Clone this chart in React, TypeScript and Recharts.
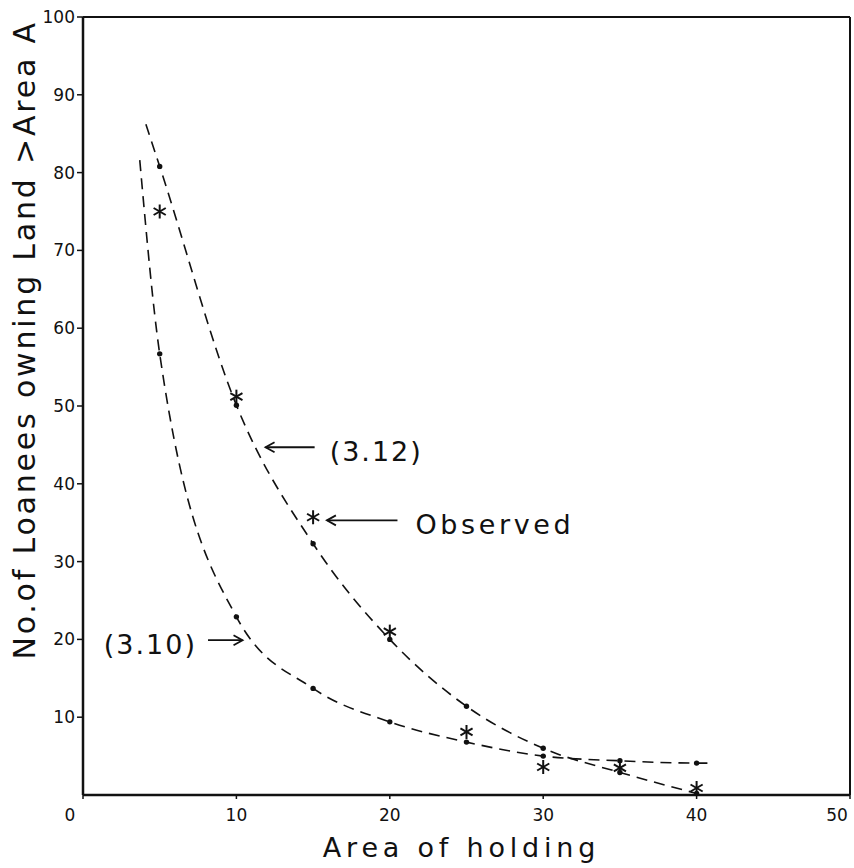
import React from 'react'
import {
  ComposedChart, Line, Scatter, XAxis, YAxis, ReferenceLine,
} from 'recharts'

// x positions of the plotted points (area of holding)
const areas = [5, 10, 15, 20, 25, 30, 35, 40]
// observed counts (asterisks)
const observed = [75, 51.2, 35.7, 21, 8.1, 3.6, 3.5, 0.9]
// fitted values, eq. (3.12) and (3.10)
const fit312 = [80.8, 50.1, 32.3, 20, 11.4, 6.0, 2.9, 0.2]
const fit310 = [56.7, 22.9, 13.7, 9.4, 6.8, 5.0, 4.4, 4.1]
// where the dashed curves start / stop beyond the marked points
const fit312Start = { x: 4.1, y: 86.2 }
const fit310Start = { x: 3.7, y: 81.6 }
const fit310End = { x: 40.8, y: 4.1 }

const xTicks = [0, 10, 20, 30, 40, 50]
const yTicks = [10, 20, 30, 40, 50, 60, 70, 80, 90, 100]

// annotation arrows: from/to in data units, head = which end gets the arrowhead
const notes = [
  { text: '(3.12)', from: [11.9, 44.7], to: [15.1, 44.7], head: 'start', gap: 15, spacing: 2 },
  { text: 'Observed', from: [15.9, 35.3], to: [20.5, 35.3], head: 'start', gap: 18, spacing: 3.6 },
  { text: '(3.10)', from: [8.15, 19.9], to: [10.4, 19.9], head: 'end', gap: 11, spacing: 2 },
]

const FONT = '"DejaVu Sans", sans-serif'
const INK = '#111'

const pts = (ys: number[]) => areas.map((x, i) => ({ x, y: ys[i] }))
const curve312 = [fit312Start, ...pts(fit312)]
const curve310 = [fit310Start, ...pts(fit310), fit310End]

const Dot = ({ cx, cy }: any) => <circle cx={cx} cy={cy} r={2.7} fill={INK} />

const Star = ({ cx, cy }: any) => {
  const r = 7
  return (
    <g stroke={INK} strokeWidth={2}>
      {[90, 30, 150].map(a => {
        const dx = r * Math.cos((a * Math.PI) / 180)
        const dy = r * Math.sin((a * Math.PI) / 180)
        return <line key={a} x1={cx - dx} y1={cy - dy} x2={cx + dx} y2={cy + dy} />
      })}
    </g>
  )
}

// the origin "0" sits left of the corner, "50" tucks in at the right edge
const tickShift = (v: number) => (v === 0 ? -13 : v === 50 ? -9 : 0)

const XTick = ({ x, y, payload }: any) => (
  <text x={x + tickShift(payload.value)} y={y} dy={18} textAnchor="middle"
    fontSize={17} fontFamily={FONT} fill={INK}>{payload.value}</text>
)

const YTick = ({ x, y, payload }: any) => (
  <text x={x} y={y} dy={6} textAnchor="end" fontSize={17} fontFamily={FONT} fill={INK}>
    {payload.value}
  </text>
)

function Arrow({ x1, y1, x2, y2, note }: any) {
  const tipX = note.head === 'start' ? x1 : x2
  const dir = note.head === 'start' ? 1 : -1
  const textX = note.head === 'start' ? x2 + note.gap : x1 - note.gap
  return (
    <g>
      <line x1={x1} y1={y1} x2={x2} y2={y2} stroke={INK} strokeWidth={1.8} />
      <polyline points={`${tipX + dir * 9},${y1 - 5} ${tipX},${y1} ${tipX + dir * 9},${y1 + 5}`}
        fill="none" stroke={INK} strokeWidth={1.8} />
      <text x={textX} y={y1} dy={14} textAnchor={note.head === 'start' ? 'start' : 'end'}
        fontSize={27} fontFamily={FONT} fill={INK} letterSpacing={note.spacing}>{note.text}</text>
    </g>
  )
}

export default function App() {
  return (
    <div style={{ position: 'absolute', left: 0, top: 0, background: '#fff' }}>
      <ComposedChart width={854} height={868} margin={{ top: 17, right: 4, left: 0, bottom: 0 }}>
        <XAxis
          type="number" dataKey="x" domain={[0, 50]} ticks={xTicks} height={73}
          axisLine={{ stroke: INK, strokeWidth: 2.5 }} tickLine={{ stroke: INK, strokeWidth: 1.5 }}
          tickSize={4} tickMargin={4} tick={XTick}
          label={{
            content: ({ viewBox }: any) => (
              <text x={viewBox.x + viewBox.width / 2 - 5} y={857} textAnchor="middle"
                fontSize={27} fontFamily={FONT} fill={INK} letterSpacing={4.8}>Area of holding</text>
            ),
          }}
        />
        <YAxis
          type="number" dataKey="y" domain={[0, 100]} ticks={yTicks} width={83}
          axisLine={{ stroke: INK, strokeWidth: 2.5 }} tickLine={{ stroke: INK, strokeWidth: 1.5 }}
          tickSize={6} tickMargin={2} tick={YTick}
          label={{
            content: ({ viewBox }: any) => {
              const cx = viewBox.x + 35
              const cy = viewBox.y + viewBox.height * 0.415
              return (
                <text x={cx} y={cy} transform={`rotate(-90, ${cx}, ${cy})`} textAnchor="middle"
                  fontSize={30} fontFamily={FONT} fill={INK} letterSpacing={2.8}>
                  No.of Loanees owning Land &gt;Area A
                </text>
              )
            },
          }}
        />
        <ReferenceLine y={100} stroke={INK} strokeWidth={2} />
        <ReferenceLine x={50} stroke={INK} strokeWidth={2} />

        <Line data={curve312} dataKey="y" type="monotone" stroke={INK} strokeWidth={1.6}
          strokeDasharray="11 7" dot={false} isAnimationActive={false} />
        <Line data={curve310} dataKey="y" type="monotone" stroke={INK} strokeWidth={1.6}
          strokeDasharray="11 7" dot={false} isAnimationActive={false} />

        <Scatter data={pts(fit312)} dataKey="y" shape={Dot} isAnimationActive={false} />
        <Scatter data={pts(fit310)} dataKey="y" shape={Dot} isAnimationActive={false} />
        <Scatter data={pts(observed)} dataKey="y" shape={Star} isAnimationActive={false} />

        {notes.map(n => (
          <ReferenceLine key={n.text}
            segment={[{ x: n.from[0], y: n.from[1] }, { x: n.to[0], y: n.to[1] }]}
            shape={(p: any) => <Arrow {...p} note={n} />} />
        ))}
      </ComposedChart>
    </div>
  )
}
